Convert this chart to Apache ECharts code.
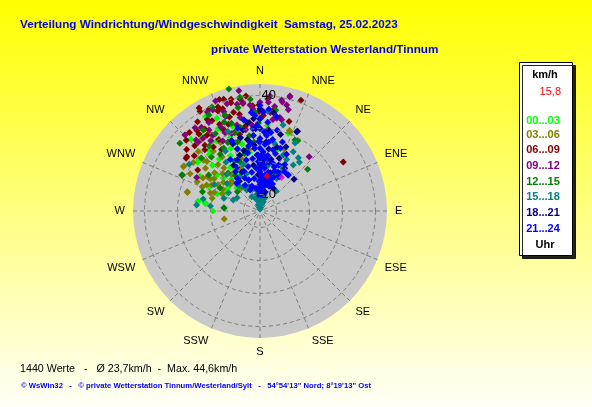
<!DOCTYPE html>
<html><head><meta charset="utf-8">
<script src="https://cdn.jsdelivr.net/npm/echarts@6/dist/echarts.min.js"></script>
<style>html,body{margin:0;padding:0;background:#fff;}#c{width:592px;height:407px;}</style>
</head><body><div id="c"></div>
<script>
// ---------- data ----------
const directions = ['N','NNE','NE','ENE','E','ESE','SE','SSE','S','SSW','SW','WSW','W','WNW','NW','NNW'];
const radiusLabelsShown = [10, 40];
const hourLabels = ['00...03','03...06','06...09','09...12','12...15','15...18','18...21','21...24'];
const hourColors = ['#00ff00','#808000','#800000','#800080','#008000','#008080','#000080','#0000ff'];
const titleText = 'Verteilung Windrichtung/Windgeschwindigkeit  Samstag, 25.02.2023';
const subtitleText = 'private Wetterstation Westerland/Tinnum';
const unitText = 'km/h';
const currentValueText = '15,8';
const hourUnitText = 'Uhr';
const statsText = '1440 Werte   -   \u00D8 23,7km/h  -  Max. 44,6km/h';
const footerText = '\u00A9 WsWin32   -   \u00A9 private Wetterstation Tinnum/Westerland/Sylt   -   54\u00B054\'13" Nord; 8\u00B019\'13" Ost';

// [speed km/h, direction deg]
const h00_03 = [[35.2,316],[29.2,309.6],[29,308],[24.1,278.5],[21.6,278],[19.3,270],[16.5,298.8],[24.3,15.8],[30.1,20],[24,279],[21.8,278],[26,300],[22,305],[28,318],[31,325],[25,322],[27,330],[33,333],[20,312],[18,318],[23,340],[26,345],[29,338],[32,342],[36,335],[19,292],[22,296],[25,314],[30,328],[21,326],[17,305],[34,322],[27,350],[24,332],
  [20,340],[23,350],[26,335],[29,320],[32,335],[35,342],[38,330],[18,330],[15,315],[28,355],[31,5],[22,310]];
const h03_06 = [[33,320.3],[31.8,300.6],[31.8,300],[27.8,284.9],[27.7,284.4],[24,292.8],[21.6,298.3],[17.6,294.6],[17.3,316],[16.1,257.4],[12.7,336.8],[31,20],[25.2,21.4],[30.7,20.7],[22,305],[23,310],[20,302],[25,300],[26,308],[21,315],[19,308],[24,318],[27,313],[23,296],[18,300],[20,292],[25,325],[28,322],[22,320],[19,322],[29,330],[17,312],[26,295],[24,303],[30,306],[21,290],[23,303],
  [16,325],[19,335],[22,340],[26,330],[28,312],[31,314],[29,298],[14,320],[20,285],[33,327],[27,340],[24,350]];
const h06_09 = [[40.3,329],[41.3,329.4],[39.5,333.4],[40.6,342],[40,345.5],[39.5,349.9],[40.1,353],[37.9,337.2],[36,313.8],[34.8,321.6],[32.6,306.5],[32.5,305.5],[27.6,303.4],[39,4],[40.8,20.3],[33.5,18],[34.3,59.5],[37.2,359.5],[35.2,359.4],[38,340],[36,332],[35,326],[37,318],[33,315],[31,320],[34,335],[36,345],[38,351],[33,340],[30,330],[35,348],[32,353],[38,325],[39,338],[31,310],[29,324],[37,356],[34,2],[36,8],[32,336],[35,342],
  [30,342],[28,335],[33,325],[37,330],[39,345],[41,340],[36,322],[34,310],[30,318],[27,328],[31,350],[29,345]];
const h09_12 = [[44.6,347.8],[38.8,335],[39,342.9],[38.1,347.9],[38.4,351],[37.3,354.6],[37.4,315.4],[34,327.8],[39.3,11],[41,14.6],[38.1,14.1],[33.4,13.4],[27.2,42.2],[26.7,297.8],[38.1,4.4],[38.7,11.6],[36.9,15.6],[40.7,14.7],[33.6,10.2],[33,8],[34,12],[35.5,340],[36,330],[33,322],[31,336],[34,348],[36,356],[32,345],[30,340],[37,322],[35,2],[31,355],[29,332],[33,318],[38,360],[32,328],[35,6],
  [30,350],[33,335],[36,325],[39,332],[41,338],[42,350],[37,340],[34,318],[31,325],[28,338],[40,5],[37,8]];
const h12_15 = [[43.2,345.7],[39,355],[39.7,335.2],[36.8,310.2],[31.1,294.7],[30.9,294.9],[23.4,288.5],[16,275.3],[15.9,274.8],[14,310.4],[24.2,48.8],[29.2,28.2],[29,26.2],[35.9,8.9],[31.7,359],[35,357],[33,350],[30,343],[28,335],[26,325],[32,330],[34,338],[27,318],[29,312],[25,340],[31,347],[22,333],[20,320],[24,305],[36,340],[28,352],[30,0],[26,355],[23,345],[27,342],
  [18,325],[21,338],[24,348],[27,330],[30,322],[33,342],[37,348],[40,350],[38,332],[35,325],[19,300],[29,5]];
const h15_18 = [[6,0],[6.5,355],[7,5],[7.5,358],[8,3],[8,350],[8.5,10],[9,357],[9.5,2],[10,348],[10,8],[10.5,0],[9.9,348],[7,345],[7,15],[6,10],[6,350],[8,20],[9,340],[11,355],[11,5],[5.5,0],[7.5,12],[8.5,352],[30.7,303.4],[22.6,282],[20.1,275.7],[16.6,289.4],[13.8,292.4],[12.5,327.6],[25.6,29.3],[24.9,35.7],[22.2,35.9],[24,38.9],[22.6,27.3],[18.6,28.9],[16.1,27],[12.8,38.7],[23.4,22.6],[35.3,4.4],[28.2,27.2],[24.3,275.4],[18,310],[20,318],[15,320],[13,335],[17,340],[14,15],[19,10],[22,5],[16,300],[12,345],[21,300],[20,25],[17,22],
  [26,330],[23,325],[20,340],[28,345],[31,338],[17,330],[14,325],[32,15],[26,12],[13,300],[10,330],[9,20],[10,15]];
const h18_21 = [[31.5,24.8],[19.1,47],[18.8,37.9],[12.4,4],[29.8,5.8],[31.7,25.3],[25,355],[22,358],[20,3],[18,0],[16,357],[14,2],[27,350],[30,357],[33,0],[24,8],[21,12],[17,15],[28,345],[23,340],[26,5],[15,10],[19,352],[32,352],[12,358],[36,0],[22,20],[25,15],[20,30],
  [15,340],[18,335],[21,330],[24,345],[27,338],[30,348],[33,356],[35,8],[29,15],[26,22],[17,28],[13,30],[11,15],[16,325]];
const h21_24 = [[26.1,359],[25.2,4.3],[18.9,38.2],[12,0],[13,5],[14,358],[15,3],[16,8],[17,0],[18,355],[19,5],[20,10],[21,0],[22,357],[23,3],[24,12],[25,350],[26,7],[27,0],[28,355],[29,3],[30,0],[31,358],[32,5],[33,0],[34,357],[35,2],[37,0],[14,15],[15,18],[16,22],[17,12],[18,25],[19,18],[20,15],[13,12],[15,350],[17,348],[19,345],[21,352],[22,8],[23,15],[24,355],[16,2],[18,6],[20,358],[22,2],[14,8],[12,5],[11,358],[17,30],[20,22],[25,18],[27,10],[29,8],[21,345],[23,348],[26,352],[28,5],[30,355],[24,0],[19,0],[21,6],[16,14],[18,20],[13,0],[26,0],
  [14,330],[16,335],[18,338],[15,340],[13,342],[17,325],[20,332],[22,336],[19,328],[12,335],[16,320],[25,340],[23,330],[28,338],[31,345],[33,350],[35,355],[36,5],[34,10],[30,12],[27,18],[24,25],[21,28],[19,32],[14,25],[13,20],[11,10],[10,5],[12,350],[10,355]];
const currentPoint = [[15.8, 11]];
const highlightPoint = [[17.1, 32.8]];

const hourSeries = [h00_03, h03_06, h06_09, h09_12, h12_15, h15_18, h18_21, h21_24];

// ---------- chart ----------
const FONT = 'Liberation Sans, Arial, sans-serif';
const chart = echarts.init(document.getElementById('c'));
const series = hourSeries.map((d, i) => ({
  type: 'scatter', coordinateSystem: 'polar', name: hourLabels[i],
  symbol: 'diamond', symbolSize: 7, data: d,
  itemStyle: { color: hourColors[i], opacity: 1 }
}));
series.push({ type: 'scatter', coordinateSystem: 'polar', symbol: 'diamond', symbolSize: 7, data: highlightPoint, itemStyle: { color: '#ff00ff' } });
series.push({ type: 'scatter', coordinateSystem: 'polar', symbol: 'diamond', symbolSize: 7, data: currentPoint, itemStyle: { color: '#ff0000' } });

const legendGraphics = [
  { type: 'rect', left: 519, top: 62, z: 10,
    shape: { width: 53, height: 193 },
    style: { fill: '#ffffff', stroke: '#000000', lineWidth: 1, shadowColor: 'rgba(0,0,0,0.85)', shadowOffsetX: 3, shadowOffsetY: 3, shadowBlur: 0 } },
  { type: 'text', x: 545, y: 75, z: 11, style: { text: unitText, fill: '#000', font: 'bold 11px ' + FONT, align: 'center', verticalAlign: 'middle' } },
  { type: 'text', x: 561, y: 92, z: 11, style: { text: currentValueText, fill: '#ff0000', font: '11px ' + FONT, align: 'right', verticalAlign: 'middle' } }
];
const legendY = [121, 135, 150, 166, 182, 197, 213, 229];
hourLabels.forEach((t, i) => {
  legendGraphics.push({ type: 'text', x: 543, y: legendY[i], z: 11,
    style: { text: t, fill: hourColors[i], font: 'bold 11px ' + FONT, align: 'center', verticalAlign: 'middle' } });
});
legendGraphics.push({ type: 'text', x: 545, y: 245, z: 11, style: { text: hourUnitText, fill: '#000', font: 'bold 11px ' + FONT, align: 'center', verticalAlign: 'middle' } });

const option = {
  animation: false,
  backgroundColor: { type: 'linear', x: 0, y: 0, x2: 0, y2: 1, colorStops: [{ offset: 0, color: '#ffff00' }, { offset: 1, color: '#fffff8' }] },
  textStyle: { fontFamily: FONT },
  polar: { center: [260, 211], radius: 127 },
  angleAxis: {
    type: 'value', min: 0, max: 360, interval: 22.5, startAngle: 90, clockwise: true,
    axisLine: { show: false }, axisTick: { show: false },
    axisLabel: { margin: 8, color: '#000', fontSize: 11, fontFamily: FONT,
      formatter: v => (v >= 360 ? '' : directions[Math.round(v / 22.5)]) },
    splitLine: { show: true, lineStyle: { color: '#7c7c7c', width: 1, type: [4, 3] } },
    splitArea: { show: false }
  },
  radiusAxis: {
    type: 'value', min: 5, max: 43.5, interval: 5, z: 5,
    axisLine: { show: false }, axisTick: { show: false },
    axisLabel: { margin: -16, color: '#000', fontSize: 13, fontFamily: FONT,
      formatter: v => (radiusLabelsShown.includes(v) ? String(v) : '') },
    splitLine: { show: true, lineStyle: { color: ['rgba(0,0,0,0)', '#7c7c7c'], width: 1, type: [4, 3] } }
  },
  series: series,
  graphic: [
    { type: 'circle', z: -1, shape: { cx: 260, cy: 211, r: 127 }, style: { fill: '#c9c9c9' } },
    { type: 'text', x: 20, y: 25, style: { text: titleText, fill: '#0000ee', font: 'bold 11.7px ' + FONT, verticalAlign: 'middle' } },
    { type: 'text', x: 211, y: 50, style: { text: subtitleText, fill: '#0000ee', font: 'bold 11.7px ' + FONT, verticalAlign: 'middle' } },
    { type: 'text', x: 20, y: 369, style: { text: statsText, fill: '#000', font: '10.7px ' + FONT, verticalAlign: 'middle' } },
    { type: 'text', x: 21, y: 386, style: { text: footerText, fill: '#0000ee', font: 'bold 7.7px ' + FONT, verticalAlign: 'middle' } }
  ].concat(legendGraphics)
};
chart.setOption(option);
</script>
</body></html>
